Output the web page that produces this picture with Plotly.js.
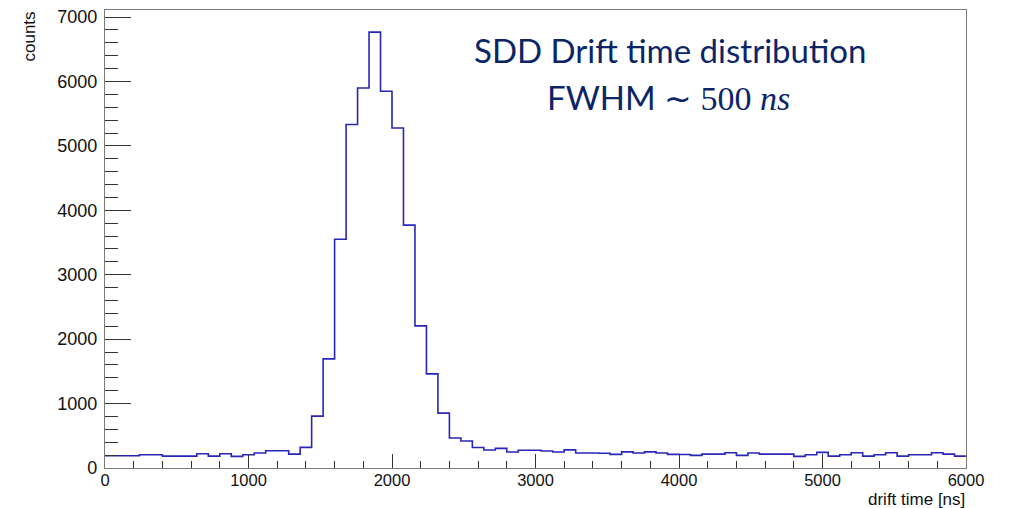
<!DOCTYPE html>
<html>
<head>
<meta charset="utf-8">
<script src="https://cdn.plot.ly/plotly-3.0.1.min.js"></script>
<style>
  html, body { margin: 0; padding: 0; background: #ffffff; }
  #chart { width: 1009px; height: 508px; }
</style>
</head>
<body>
<div id="chart"></div>
<script>
// ---- data ----
const binWidth = 80;           // ns per bin, 75 bins over 0..6000 ns
const counts = [
  191, 191, 191, 206, 206, 185, 185, 185, 222, 185,
  222, 180, 206, 232, 268, 268, 216, 320, 806, 1694,
  3550, 5332, 5900, 6767, 5848, 5279, 3771, 2206, 1461, 852,
  465, 420, 318, 280, 305, 248, 276, 276, 264, 248,
  282, 232, 232, 230, 212, 250, 232, 250, 232, 212,
  210, 196, 216, 216, 237, 196, 232, 216, 216, 216,
  180, 206, 242, 185, 206, 237, 185, 206, 237, 185,
  206, 206, 237, 216, 185
];
const xTitle = "drift time [ns]";
const yTitle = "counts";
// zero-width non-joiners keep "ti" from turning into a ligature
const titleLine1 = "SDD Drift \u200Ctime dis\u200Ctribu\u200Ction";
const titleLine2 = "FWHM \u223C <span style=\"font-family:'Liberation Serif';font-size:34px\">500 <i>ns</i></span>";

// bin edges for a step outline
const edges = counts.map((_, i) => i * binWidth);
edges.push(counts.length * binWidth);
const stepY = counts.concat([counts[counts.length - 1]]);

// layout geometry (pixels)
const W = 1009, H = 508;
const L = 105, R = 966.5, T = 9.5, B = 468.3;
const px = x => (x - L) / (R - L);
const py = y => (B - y) / (B - T);

const trace = {
  type: 'scatter',
  mode: 'lines',
  x: edges,
  y: stepY,
  line: { shape: 'hv', color: '#2626b8', width: 1.6 },
  hoverinfo: 'x+y'
};

const sans = 'Liberation Sans, Arial, sans-serif';

const layout = {
  width: W, height: H,
  margin: { l: L, r: W - R, t: T, b: H - B, pad: 0 },
  paper_bgcolor: '#ffffff',
  plot_bgcolor: '#ffffff',
  showlegend: false,
  xaxis: {
    range: [0, 6000],
    dtick: 1000, tick0: 0,
    ticks: 'inside', ticklen: 14, tickwidth: 1, tickcolor: '#333',
    minor: { dtick: 200, ticks: 'inside', ticklen: 7, tickwidth: 1, tickcolor: '#333' },
    showline: true, linecolor: '#7a7a7a', linewidth: 1.2, mirror: true,
    showgrid: false, zeroline: false,
    tickfont: { family: sans, size: 16.5, color: '#111' },
    ticklabelstandoff: -3
  },
  yaxis: {
    range: [0, 7110],
    dtick: 1000, tick0: 0,
    ticks: 'inside', ticklen: 26, tickwidth: 1, tickcolor: '#333',
    minor: { dtick: 200, ticks: 'inside', ticklen: 13, tickwidth: 1, tickcolor: '#333' },
    showline: true, linecolor: '#7a7a7a', linewidth: 1.2, mirror: true,
    showgrid: false, zeroline: false,
    tickfont: { family: sans, size: 18, color: '#111' },
    ticklabelstandoff: 3
  },
  annotations: [
    {
      xref: 'paper', yref: 'paper', x: px(968), y: py(500),
      xanchor: 'right', yanchor: 'middle', showarrow: false,
      text: xTitle, font: { family: sans, size: 17, color: '#111' }
    },
    {
      xref: 'paper', yref: 'paper', x: px(29), y: py(36),
      xanchor: 'center', yanchor: 'middle', showarrow: false, textangle: -90,
      text: yTitle, font: { family: sans, size: 17, color: '#111' }
    },
    {
      xref: 'paper', yref: 'paper', x: px(670), y: py(50),
      xanchor: 'center', yanchor: 'middle', showarrow: false,
      text: titleLine1, font: { family: 'Lato, Open Sans, sans-serif', size: 33, color: '#0b2566' }
    },
    {
      xref: 'paper', yref: 'paper', x: px(669), y: py(97),
      xanchor: 'center', yanchor: 'middle', showarrow: false,
      text: titleLine2, font: { family: 'Lato, Open Sans, sans-serif', size: 33, color: '#0b2566' }
    }
  ]
};

Plotly.newPlot('chart', [trace], layout, { displayModeBar: false, staticPlot: true });
</script>
</body>
</html>
